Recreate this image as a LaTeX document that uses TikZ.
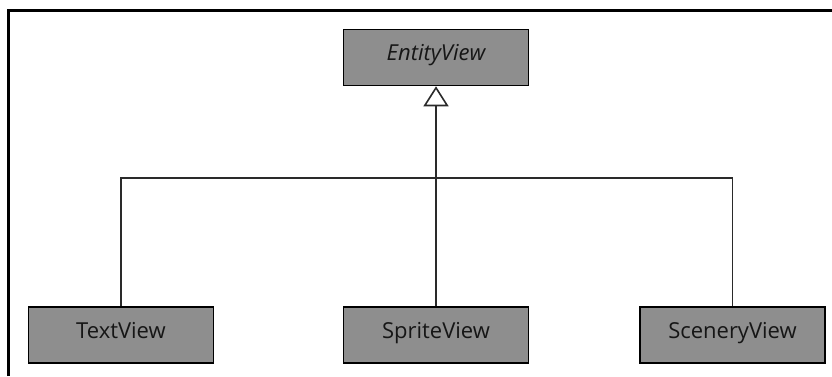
\documentclass[tikz,border=0pt]{standalone}
\usepackage{fontspec}
\setmainfont{Open Sans}
\usetikzlibrary{arrows.meta}
\definecolor{boxfill}{HTML}{8E8E8E}
\definecolor{wire}{HTML}{2A2A2A}
\definecolor{ink}{HTML}{161616}
\tikzset{
  classbox/.style={draw=black, line width=1.6pt, fill=boxfill, rectangle,
    minimum width=185pt, minimum height=56pt, inner sep=0pt,
    text height=16pt, text depth=10pt,
    text=ink, font=\fontsize{22}{26}\selectfont},
  wireline/.style={draw=wire, line width=1.6pt},
  inherit/.style={wireline, -{Triangle[open, fill=white, width=25pt, length=20pt, line width=1.6pt]}}
}
\begin{document}
\begin{tikzpicture}[x=1pt, y=-1pt]
  \useasboundingbox (0,0) rectangle (832,376);
  % outer frame, only top and left edges visible
  \draw[line width=2.5pt, black] (8.7,376) -- (8.7,10.5) -- (832,10.5);

  \node[classbox, font=\fontsize{22}{26}\selectfont\itshape] (entity) at (436,57.5) {EntityView};
  \node[classbox] (text) at (121,335) {TextView};
  \node[classbox] (sprite) at (436,335) {SpriteView};
  \node[classbox] (scenery) at (732.5,335) {SceneryView};

  \coordinate (bus) at (0,178);
  \draw[wireline] (text.north) -- (text.north |- bus) -- (scenery.north |- bus) -- (scenery.north);
  \draw[inherit] (sprite.north) -- (entity.south);
\end{tikzpicture}
\end{document}
